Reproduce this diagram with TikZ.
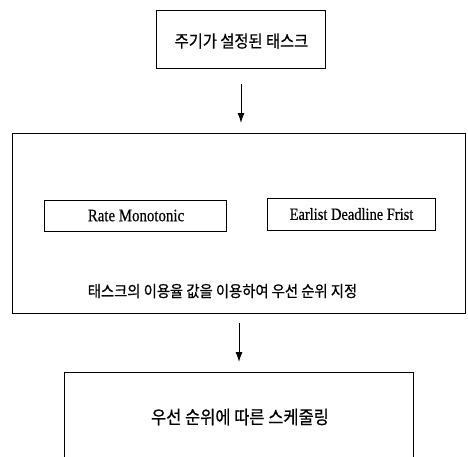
\documentclass[tikz,border=0pt]{standalone}
\usepackage{fontspec}
\setmainfont{Liberation Serif}
\newfontfamily\krA[FakeStretch=0.9,FakeBold=0.6]{Noto Sans CJK KR}
\newfontfamily\lat[FakeStretch=0.85,FakeBold=0.4]{Liberation Serif}
\usetikzlibrary{arrows.meta}
\tikzset{
  box/.style={draw, line width=1pt, inner sep=0pt, anchor=north west},
  lbl/.style={inner sep=0pt},
  arr/.style={line width=1pt, -{Latex[length=10pt,width=7pt]}}
}
\begin{document}
\begin{tikzpicture}[x=1pt,y=-1pt]
\useasboundingbox (0,0) rectangle (468,456);
\clip (0,0) rectangle (468,456);
\node[box, minimum width=169pt, minimum height=58pt] (top) at (156,10) {};
\node[lbl] (toptxt) at (241.5,41) {\krA\fontsize{17pt}{20pt}\selectfont 주기가 설정된 태스크};
\node[box, minimum width=453pt, minimum height=180pt] (mid) at (12,133) {};
\node[box, minimum width=182pt, minimum height=31pt] (rm) at (44,200) {};
\node[lbl] (rmtxt) at (136,215.5) {\lat\fontsize{17.5pt}{19pt}\selectfont Rate Monotonic};
\node[box, minimum width=168pt, minimum height=32pt] (edf) at (267,198) {};
\node[lbl] (edftxt) at (351.5,214) {\lat\fontsize{17pt}{19pt}\selectfont Earlist Deadline Frist};
\node[lbl] (midtxt) at (222.5,291) {\krA\fontsize{15.9pt}{18pt}\selectfont 태스크의 이용율 값을 이용하여 우선 순위 지정};
\node[box, minimum width=349pt, minimum height=100pt] (bot) at (64,372) {};
\node[lbl] (bottxt) at (240,417) {\krA\fontsize{18.3pt}{19pt}\selectfont 우선 순위에 따른 스케줄링};
\draw[arr, shorten <=15pt, shorten >=10pt] (top.south) -- (top.south |- mid.north);
\draw[arr, shorten <=9pt, shorten >=10pt] (mid.south) -- (mid.south |- bot.north);
\end{tikzpicture}
\end{document}
